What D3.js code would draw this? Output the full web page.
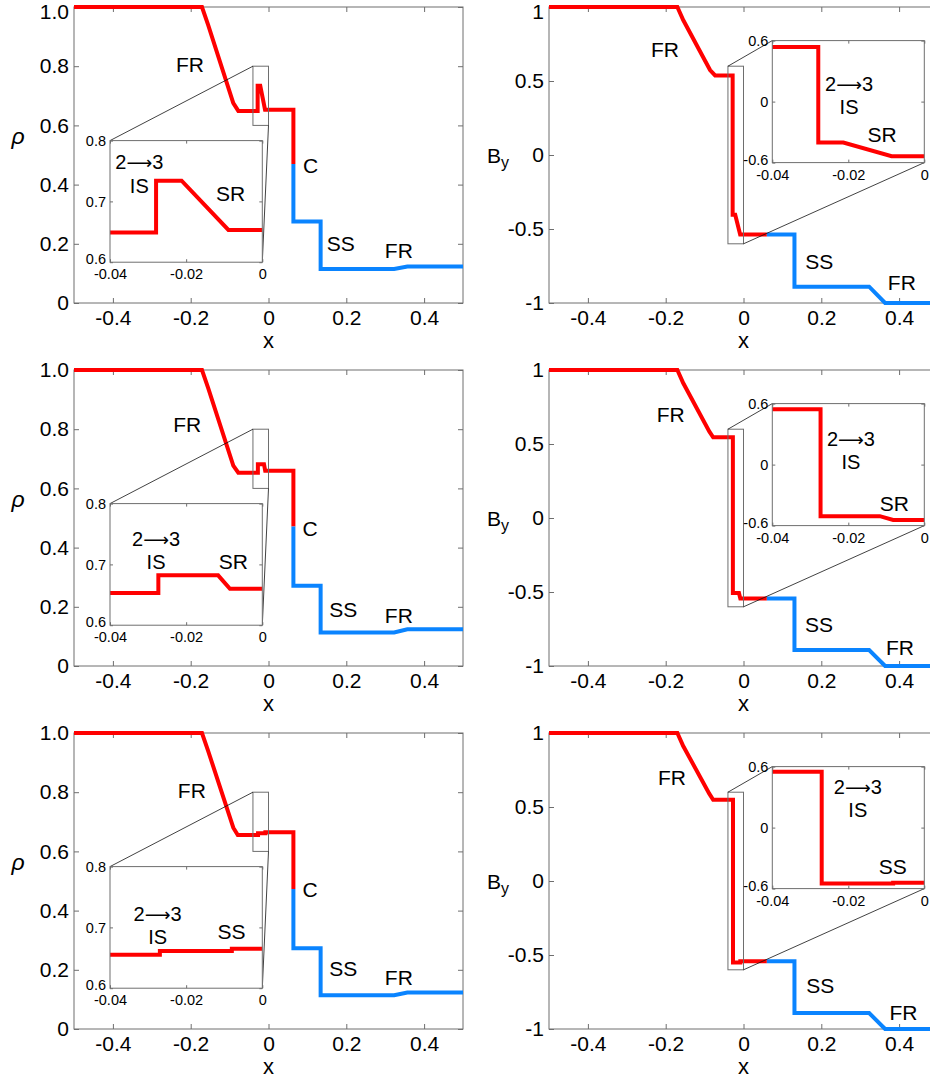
<!DOCTYPE html>
<html>
<head>
<meta charset="utf-8">
<script src="https://cdn.jsdelivr.net/npm/d3@7"></script>
<style>
  body { margin: 0; background: #fff; }
  svg { display: block; }
</style>
</head>
<body>
<svg id="fig" width="930" height="1078"></svg>
<script>
// ---- tick values ----
const xTicks = [-0.4, -0.2, 0, 0.2, 0.4];
const rhoTicks = [0, 0.2, 0.4, 0.6, 0.8, 1.0];
const byTicks = [-1, -0.5, 0, 0.5, 1];
const insetXTicks = [-0.04, -0.02, 0];
const rhoInsetTicks = [0.6, 0.7, 0.8];
const byInsetTicks = [-0.6, 0, 0.6];

// ---- density profiles [x, rho]; red: left of contact, blue: right of contact ----
const rhoRed1 = [[-0.5, 1.0], [-0.171, 1.0], [-0.155, 0.939], [-0.0905, 0.675], [-0.0776, 0.649],
  [-0.0279, 0.649], [-0.0279, 0.734], [-0.0212, 0.734], [-0.0089, 0.653], [0.064, 0.653], [0.064, 0.470]];
const rhoBlue1 = [[0.064, 0.470], [0.064, 0.275], [0.134, 0.275], [0.134, 0.115], [0.323, 0.115],
  [0.357, 0.123], [0.5, 0.123]];

const rhoRed2 = [[-0.5, 1.0], [-0.171, 1.0], [-0.155, 0.939], [-0.0905, 0.677], [-0.0776, 0.653],
  [-0.0273, 0.653], [-0.0273, 0.682], [-0.0116, 0.682], [-0.0085, 0.660], [0.064, 0.660], [0.064, 0.471]];
const rhoBlue2 = [[0.064, 0.471], [0.064, 0.271], [0.134, 0.271], [0.134, 0.113], [0.323, 0.113],
  [0.357, 0.124], [0.5, 0.124]];

const rhoRed3 = [[-0.5, 1.0], [-0.171, 1.0], [-0.155, 0.939], [-0.0905, 0.680], [-0.079, 0.655],
  [-0.0269, 0.655], [-0.0269, 0.661], [-0.008, 0.661], [-0.008, 0.665], [0.064, 0.665], [0.064, 0.473]];
const rhoBlue3 = [[0.064, 0.473], [0.064, 0.273], [0.134, 0.273], [0.134, 0.114], [0.323, 0.114],
  [0.357, 0.123], [0.5, 0.123]];

// ---- transverse field profiles [x, By] ----
const byRed1 = [[-0.5, 1], [-0.17, 1], [-0.155, 0.912], [-0.086, 0.574], [-0.073, 0.538],
  [-0.0279, 0.538], [-0.0279, -0.403], [-0.0213, -0.403], [-0.0086, -0.537], [0.06, -0.537]];
const byBlue1 = [[0.06, -0.537], [0.131, -0.537], [0.131, -0.89], [0.323, -0.89], [0.364, -1], [0.5, -1]];

const byRed2 = [[-0.5, 1], [-0.17, 1], [-0.155, 0.912], [-0.088, 0.585], [-0.078, 0.545],
  [-0.0273, 0.545], [-0.0273, -0.507], [-0.0117, -0.507], [-0.0082, -0.544], [0.06, -0.544]];
const byBlue2 = [[0.06, -0.544], [0.131, -0.544], [0.131, -0.892], [0.323, -0.892], [0.364, -1], [0.5, -1]];

const byRed3 = [[-0.5, 1], [-0.17, 1], [-0.155, 0.912], [-0.088, 0.59], [-0.078, 0.549],
  [-0.027, 0.549], [-0.027, -0.551], [-0.0082, -0.551], [-0.0082, -0.543], [0.06, -0.543]];
const byBlue3 = [[0.06, -0.543], [0.131, -0.543], [0.131, -0.892], [0.323, -0.892], [0.364, -1], [0.5, -1]];

// ---- wave annotations (data coordinates) ----
const ARROW = "2\u21923";
const rhoNotes1 = [["FR", -0.202, 0.804], ["C", 0.108, 0.464], ["SS", 0.186, 0.199], ["FR", 0.335, 0.177]];
const rhoNotes2 = [["FR", -0.209, 0.814], ["C", 0.107, 0.463], ["SS", 0.192, 0.192], ["FR", 0.335, 0.170]];
const rhoNotes3 = [["FR", -0.197, 0.805], ["C", 0.107, 0.470], ["SS", 0.192, 0.205], ["FR", 0.335, 0.175]];
const rhoInsetNotes1 = [[ARROW, -0.0323, 0.761], ["IS", -0.0323, 0.728], ["SR", -0.0083, 0.7135]];
const rhoInsetNotes2 = [[ARROW, -0.0279, 0.7385], ["IS", -0.0279, 0.707], ["SR", -0.0076, 0.704]];
const rhoInsetNotes3 = [[ARROW, -0.0275, 0.719], ["IS", -0.0275, 0.688], ["SS", -0.0081, 0.693]];

const byNotes1 = [["FR", -0.202, 0.709], ["SS", 0.195, -0.721], ["FR", 0.407, -0.863]];
const byNotes2 = [["FR", -0.187, 0.696], ["SS", 0.194, -0.718], ["FR", 0.402, -0.874]];
const byNotes3 = [["FR", -0.184, 0.701], ["SS", 0.197, -0.709], ["FR", 0.411, -0.887]];
const byInsetNotes1 = [[ARROW, -0.0198, 0.154], ["IS", -0.0198, -0.0325], ["SR", -0.0111, -0.328]];
const byInsetNotes2 = [[ARROW, -0.0193, 0.231], ["IS", -0.0193, 0.041], ["SR", -0.0079, -0.386]];
const byInsetNotes3 = [[ARROW, -0.0175, 0.380], ["IS", -0.0175, 0.195], ["SS", -0.0083, -0.387]];

// ---- styling / layout ----
const FONT = '"Liberation Sans", Arial, Helvetica, sans-serif';
const RED = "#ff0000", BLUE = "#0a84ff", AXIS = "#6e6e6e";
const PW = 389, PH = 296;
const rowTops = [7, 370, 733];

const svg = d3.select("#fig");
let clipId = 0;

const fmtRho = d => (d === 0 ? "0" : d.toFixed(1));
const fmtPlain = d => String(d);

function addTicks(g, scale, orient, pos, vals, size, fmt, pad, fontSize) {
  const maker = { bottom: d3.axisBottom, top: d3.axisTop, left: d3.axisLeft, right: d3.axisRight }[orient];
  const ax = maker(scale).tickValues(vals).tickSizeInner(-size).tickSizeOuter(0)
    .tickPadding(pad).tickFormat(fmt || (() => ""));
  const horiz = orient === "bottom" || orient === "top";
  const a = g.append("g")
    .attr("transform", horiz ? `translate(0,${pos})` : `translate(${pos},0)`)
    .call(ax);
  a.select(".domain").remove();
  a.selectAll("line").attr("stroke", AXIS).attr("stroke-width", 1);
  a.selectAll("text").attr("font-size", fontSize).attr("font-family", FONT).attr("fill", "#000");
  return a;
}

// annotation text; "2->3" is drawn with a long thin arrow, with "IS" stacked beneath it
function notes(g, xs, ys, list, size) {
  list.forEach(d => {
    const stackShift = d[0] === ARROW ? -2 : (d[0] === "IS" ? 2 : 0);
    const fs = stackShift ? size - 1 : size;
    const t = g.append("text")
      .attr("x", xs(d[1])).attr("y", ys(d[2]) + stackShift).attr("dy", "0.35em")
      .attr("text-anchor", "middle")
      .attr("font-family", FONT).attr("font-size", fs).attr("fill", "#000");
    if (d[0] === ARROW) {
      t.append("tspan").text("2");
      t.append("tspan").attr("font-family", '"DejaVu Sans", sans-serif').attr("font-size", fs * 0.9)
        .text("\u27f6");
      t.append("tspan").text("3");
    } else {
      t.text(d[0]);
    }
  });
}

function panel(o) {
  const g = svg.append("g");
  const top = o.top, bottom = o.top + PH;
  const x = d3.scaleLinear([-0.5, 0.5], [o.x0, o.x0 + PW]);
  const y = d3.scaleLinear(o.yDomain, [bottom, top]);

  // frame and inward ticks on all four sides
  g.append("rect").attr("x", o.x0).attr("y", top).attr("width", PW).attr("height", PH)
    .attr("fill", "none").attr("stroke", AXIS).attr("stroke-width", 1);
  addTicks(g, x, "bottom", bottom, xTicks, 5, fmtPlain, 7, 21);
  addTicks(g, x, "top", top, xTicks, 5, null, 0, 21);
  const yAx = addTicks(g, y, "left", o.x0, o.yTicks, 5, o.yFmt, 5, 21);
  addTicks(g, y, "right", o.x0 + PW, o.yTicks, 5, null, 0, 21);
  // keep the topmost tick label inside the canvas
  yAx.selectAll(".tick").each(function (d) {
    const py = y(d);
    if (py < 12) d3.select(this).select("text").attr("y", 12 - py);
  });

  // profiles
  const line = d3.line().x(d => x(d[0])).y(d => y(d[1]));
  g.append("path").attr("d", line(o.red)).attr("fill", "none").attr("stroke", RED)
    .attr("stroke-width", 4).attr("stroke-linejoin", "miter");
  g.append("path").attr("d", line(o.blue)).attr("fill", "none").attr("stroke", BLUE)
    .attr("stroke-width", 4).attr("stroke-linejoin", "miter");

  // zoom window in the main axes
  const zx0 = x(-0.04), zx1 = x(0), zy0 = y(o.zoomY[1]), zy1 = y(o.zoomY[0]);
  g.append("rect").attr("x", zx0).attr("y", zy0).attr("width", zx1 - zx0).attr("height", zy1 - zy0)
    .attr("fill", "none").attr("stroke", AXIS).attr("stroke-width", 1);

  // inset axes
  const ix0 = o.inset[0], iw = o.inset[2], it = top + o.inset[1], ih = o.inset[3];
  const xi = d3.scaleLinear([-0.04, 0], [ix0, ix0 + iw]);
  const yi = d3.scaleLinear(o.zoomY, [it + ih, it]);

  // connectors from the zoom window to the inset
  g.append("line").attr("x1", zx0).attr("y1", zy0).attr("x2", ix0).attr("y2", it)
    .attr("stroke", "#111").attr("stroke-width", 0.8);
  g.append("line").attr("x1", zx1).attr("y1", zy1).attr("x2", ix0 + iw).attr("y2", it + ih)
    .attr("stroke", "#111").attr("stroke-width", 0.8);

  const gi = g.append("g");
  gi.append("rect").attr("x", ix0).attr("y", it).attr("width", iw).attr("height", ih).attr("fill", "#fff");
  const cid = "clip" + (clipId++);
  gi.append("clipPath").attr("id", cid).append("rect")
    .attr("x", ix0).attr("y", it).attr("width", iw).attr("height", ih);
  const lineI = d3.line().x(d => xi(d[0])).y(d => yi(d[1]));
  gi.append("path").attr("d", lineI(o.red)).attr("clip-path", `url(#${cid})`)
    .attr("fill", "none").attr("stroke", RED).attr("stroke-width", 4);
  gi.append("path").attr("d", lineI(o.blue)).attr("clip-path", `url(#${cid})`)
    .attr("fill", "none").attr("stroke", BLUE).attr("stroke-width", 4);
  gi.append("rect").attr("x", ix0).attr("y", it).attr("width", iw).attr("height", ih)
    .attr("fill", "none").attr("stroke", AXIS).attr("stroke-width", 1);
  addTicks(gi, xi, "bottom", it + ih, insetXTicks, 3, fmtPlain, 7, 14.5);
  addTicks(gi, xi, "top", it, insetXTicks, 3, null, 0, 14.5);
  const yiAx = addTicks(gi, yi, "left", ix0, o.insetYTicks, 3, o.insetYFmt, 4, 14.5);
  addTicks(gi, yi, "right", ix0 + iw, o.insetYTicks, 3, null, 0, 14.5);
  // lift the lowest inset label a little off the x labels
  yiAx.selectAll(".tick").filter(d => d === o.zoomY[0]).select("text").attr("y", -3);

  notes(g, x, y, o.notes, 21);
  notes(gi, xi, yi, o.insetNotes, 21);

  // axis titles
  g.append("text").attr("x", x(0)).attr("y", bottom + 37).attr("dy", "0.35em")
    .attr("text-anchor", "middle").attr("font-family", FONT).attr("font-size", 22).text("x");
  if (o.kind === "rho") {
    g.append("text").attr("x", 18).attr("y", top + 137).attr("text-anchor", "middle")
      .attr("font-family", FONT).attr("font-style", "italic").attr("font-size", 23).text("\u03c1");
  } else {
    const t = g.append("text").attr("x", 487).attr("y", top + 155.5)
      .attr("font-family", FONT).attr("font-size", 21);
    t.append("tspan").text("B");
    t.append("tspan").attr("dy", 5).attr("font-size", 16).text("y");
  }
}

const rhoRows = [[rhoRed1, rhoBlue1, rhoNotes1, rhoInsetNotes1],
                 [rhoRed2, rhoBlue2, rhoNotes2, rhoInsetNotes2],
                 [rhoRed3, rhoBlue3, rhoNotes3, rhoInsetNotes3]];
const byRows = [[byRed1, byBlue1, byNotes1, byInsetNotes1],
                [byRed2, byBlue2, byNotes2, byInsetNotes2],
                [byRed3, byBlue3, byNotes3, byInsetNotes3]];

rowTops.forEach((top, i) => {
  panel({
    kind: "rho", x0: 74, top, yDomain: [0, 1], yTicks: rhoTicks, yFmt: fmtRho,
    red: rhoRows[i][0], blue: rhoRows[i][1], notes: rhoRows[i][2], insetNotes: rhoRows[i][3],
    zoomY: [0.6, 0.8], insetYTicks: rhoInsetTicks, insetYFmt: d => d.toFixed(1),
    inset: [110, 133.6, 152.3, 121.6]
  });
  panel({
    kind: "by", x0: 549, top, yDomain: [-1, 1], yTicks: byTicks, yFmt: fmtPlain,
    red: byRows[i][0], blue: byRows[i][1], notes: byRows[i][2], insetNotes: byRows[i][3],
    zoomY: [-0.6, 0.6], insetYTicks: byInsetTicks, insetYFmt: fmtPlain,
    inset: [772.3, 33.6, 152, 122]
  });
});
</script>
</body>
</html>
